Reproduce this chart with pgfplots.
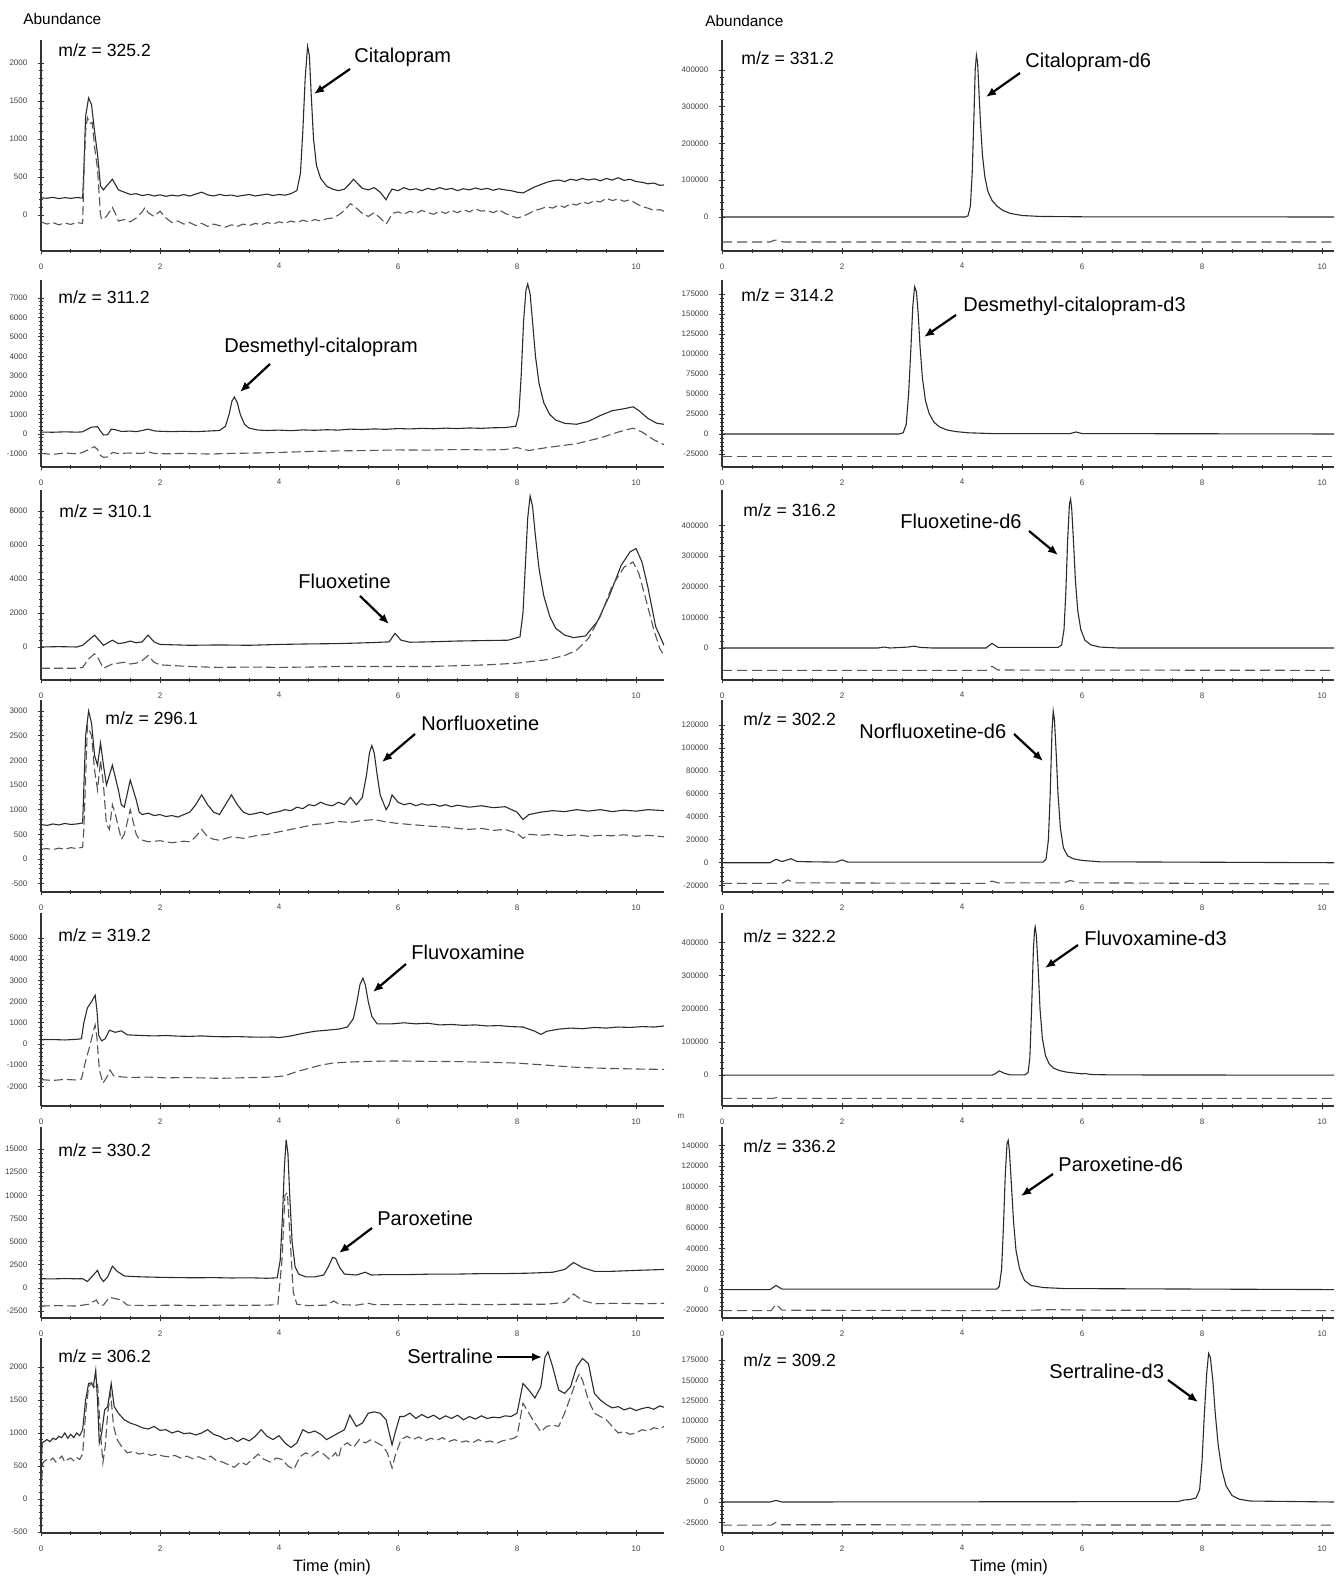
\documentclass[border=0pt]{standalone}
\usepackage{fontspec}
\setmainfont{Liberation Sans}
\usepackage{pgfplots}
\pgfplotsset{compat=1.18}
\usetikzlibrary{arrows.meta}
\definecolor{trace}{HTML}{2b2b2b}
\definecolor{dtrace}{HTML}{555555}
\definecolor{axisgray}{HTML}{333333}

% picture is laid out on the reference's pixel grid: 1 px = 0.5pt
\pgfplotsset{
  chrom/.style={
    scale only axis,
    axis x line=bottom, axis y line=left,
    axis line style={-, line width=0.6pt, axisgray},
    xmin=0, xtick={0,2,...,10}, minor x tick num=3, minor y tick num=4,
    tick align=center, major tick length=3.4pt, minor tick length=2.4pt,
    tick style={line width=0.4pt, axisgray},
    minor tick style={line width=0.4pt, axisgray},
    ticklabel style={font=\fontsize{4}{4}\selectfont, black!75},
    yticklabel style={xshift=-1.6pt},
    xticklabel style={yshift=-1pt},
    /pgf/number format/assume math mode=true,
    /pgf/number format/fixed,
    /pgf/number format/precision=0,
    /pgf/number format/1000 sep={},
    scaled y ticks=false,
    every axis plot/.append style={line width=0.55pt, mark=none},
  },
  leftcol/.style={chrom, anchor=south west, width=311.5pt, xmax=10.47},
  rightcol/.style={chrom, anchor=south west, width=306pt, xmax=10.2},
  sol/.style={trace, solid},
  das/.style={dtrace, dash pattern=on 4.5pt off 2pt},
  rsol/.style={trace, solid},
  rdas/.style={dtrace, dash pattern=on 5pt off 2.5pt},
}

\tikzset{
  mz/.style={anchor=west, font=\fontsize{8.8}{9}\selectfont, inner sep=0pt},
  cmp/.style={anchor=west, font=\fontsize{10}{10}\selectfont, inner sep=0pt},
  arr/.style={-{Latex[length=5pt,width=4.2pt]}, line width=1.1pt, black},
}

\begin{document}
\begin{tikzpicture}
\useasboundingbox (0,0) rectangle (671.5pt,789pt);

%% ---------------- row 1 ----------------
\begin{axis}[leftcol, at={(20.5pt,663.5pt)}, height=105.5pt,
  ymin=-474, ymax=2303, ytick={0,500,...,2000}]
\addplot[sol] coordinates {(0,225)(0.1,220)(0.2,232)(0.3,215)(0.4,228)(0.5,218)(0.6,230)(0.7,222)(0.72,600)(0.75,1300)(0.8,1540)(0.85,1450)(0.9,1100)(0.95,800)(1.0,380)(1.05,330)(1.1,380)(1.2,470)(1.3,330)(1.4,300)(1.5,270)(1.6,280)(1.7,255)(1.8,270)(1.9,250)(2.0,265)(2.1,245)(2.2,260)(2.3,250)(2.4,268)(2.5,248)(2.6,275)(2.7,300)(2.8,265)(2.9,250)(3.0,270)(3.1,255)(3.2,262)(3.3,245)(3.4,258)(3.5,270)(3.6,250)(3.7,262)(3.8,275)(3.9,255)(4.0,270)(4.1,260)(4.2,280)(4.3,320)(4.36,550)(4.4,1100)(4.44,1800)(4.48,2220)(4.51,2100)(4.54,1600)(4.58,1000)(4.63,650)(4.7,480)(4.8,380)(4.9,340)(5.0,320)(5.1,340)(5.2,420)(5.25,470)(5.3,430)(5.4,350)(5.5,330)(5.6,360)(5.7,300)(5.8,200)(5.85,280)(5.9,340)(6.0,320)(6.1,360)(6.2,330)(6.3,345)(6.4,320)(6.5,350)(6.6,330)(6.7,360)(6.8,335)(6.9,350)(7.0,320)(7.1,345)(7.2,330)(7.3,355)(7.4,335)(7.5,350)(7.6,325)(7.7,345)(7.8,330)(7.9,320)(8.0,300)(8.1,290)(8.2,330)(8.3,370)(8.4,400)(8.5,430)(8.6,450)(8.7,460)(8.8,440)(8.9,470)(9.0,455)(9.1,480)(9.2,460)(9.3,475)(9.4,450)(9.5,480)(9.6,460)(9.7,490)(9.8,455)(9.9,470)(10.0,440)(10.1,430)(10.2,410)(10.3,420)(10.4,390)(10.47,395)};
\addplot[das] coordinates {(0,-90)(0.1,-120)(0.2,-100)(0.3,-130)(0.4,-105)(0.5,-125)(0.6,-100)(0.7,-110)(0.72,500)(0.75,1100)(0.78,1280)(0.82,1200)(0.86,1220)(0.9,900)(0.95,600)(1.0,0)(1.02,-60)(1.1,-20)(1.2,100)(1.25,20)(1.3,-80)(1.4,-60)(1.5,-90)(1.6,-40)(1.7,40)(1.75,100)(1.8,30)(1.9,-20)(2.0,50)(2.1,-40)(2.2,-100)(2.3,-80)(2.4,-120)(2.5,-100)(2.6,-140)(2.7,-110)(2.8,-150)(2.9,-120)(3.0,-140)(3.1,-160)(3.2,-130)(3.3,-150)(3.4,-120)(3.5,-140)(3.6,-110)(3.7,-130)(3.8,-100)(3.9,-120)(4.0,-90)(4.1,-110)(4.2,-80)(4.3,-100)(4.4,-70)(4.5,-90)(4.6,-60)(4.7,-80)(4.8,-50)(4.9,-40)(5.0,0)(5.1,60)(5.2,150)(5.3,90)(5.4,20)(5.5,-20)(5.6,30)(5.7,-40)(5.8,-120)(5.85,-60)(5.9,20)(6.0,40)(6.1,10)(6.2,50)(6.3,20)(6.4,60)(6.5,30)(6.6,10)(6.7,50)(6.8,20)(6.9,60)(7.0,30)(7.1,70)(7.2,40)(7.3,80)(7.4,50)(7.5,60)(7.6,30)(7.7,70)(7.8,20)(7.9,-10)(8.0,-40)(8.1,-20)(8.2,20)(8.3,60)(8.4,80)(8.5,110)(8.6,90)(8.7,130)(8.8,100)(8.9,150)(9.0,130)(9.1,170)(9.2,150)(9.3,190)(9.4,170)(9.5,220)(9.6,190)(9.7,210)(9.8,180)(9.9,200)(10.0,150)(10.1,110)(10.2,90)(10.3,60)(10.4,70)(10.47,50)};
\end{axis}

\begin{axis}[rightcol, at={(361pt,663.5pt)}, height=105.5pt,
  ymin=-92500, ymax=481600, ytick={0,100000,...,400000}]
\addplot[rsol] coordinates {(0,0)(4.05,0)(4.1,3000)(4.14,30000)(4.17,120000)(4.2,280000)(4.22,400000)(4.24,440000)(4.26,420000)(4.28,350000)(4.31,250000)(4.34,170000)(4.38,110000)(4.43,70000)(4.5,45000)(4.58,30000)(4.68,18000)(4.8,10000)(5.0,4000)(5.3,1500)(6,500)(10.2,0)};
\addplot[rdas] coordinates {(0,-68000)(0.8,-68000)(0.88,-63000)(0.95,-63000)(1.02,-68000)(10.2,-68000)};
\end{axis}

%% ---------------- row 2 ----------------
\begin{axis}[leftcol, at={(20.5pt,555.5pt)}, height=93.5pt,
  ymin=-1698, ymax=7926, ytick={-1000,0,...,7000}]
\addplot[sol] coordinates {(0,100)(0.2,90)(0.4,110)(0.6,95)(0.7,110)(0.75,200)(0.85,350)(0.95,380)(1.0,150)(1.05,-50)(1.12,-40)(1.18,250)(1.25,220)(1.35,130)(1.5,150)(1.6,120)(1.7,180)(1.8,250)(1.9,160)(2.0,140)(2.2,120)(2.4,140)(2.6,120)(2.8,150)(3.0,180)(3.1,400)(3.16,1000)(3.21,1700)(3.25,1900)(3.3,1600)(3.35,1000)(3.42,500)(3.5,300)(3.65,200)(3.8,180)(4.0,200)(4.2,170)(4.4,210)(4.6,190)(4.8,220)(5.0,200)(5.2,250)(5.4,230)(5.6,260)(5.8,240)(6.0,280)(6.2,260)(6.4,290)(6.6,270)(6.8,300)(7.0,280)(7.2,310)(7.4,290)(7.6,320)(7.8,330)(7.98,400)(8.03,1000)(8.07,3000)(8.11,5800)(8.15,7400)(8.18,7720)(8.22,7200)(8.26,5800)(8.31,4000)(8.37,2600)(8.45,1600)(8.55,1000)(8.65,720)(8.8,550)(9.0,500)(9.2,650)(9.4,950)(9.6,1200)(9.8,1300)(9.95,1400)(10.05,1200)(10.2,800)(10.35,550)(10.47,500)};
\addplot[das] coordinates {(0,-1000)(0.2,-1050)(0.4,-980)(0.6,-1020)(0.7,-950)(0.8,-800)(0.9,-650)(0.95,-800)(1.0,-1100)(1.05,-1200)(1.12,-1180)(1.2,-950)(1.3,-1000)(1.5,-980)(1.7,-1000)(1.8,-920)(1.9,-1000)(2.1,-1020)(2.4,-1000)(2.8,-1030)(3.2,-1000)(3.6,-980)(4.0,-950)(4.5,-900)(5.0,-870)(5.5,-850)(6.0,-820)(6.5,-830)(7.0,-800)(7.5,-820)(7.8,-800)(8.0,-700)(8.2,-850)(8.5,-700)(9.0,-500)(9.4,-200)(9.7,100)(9.95,300)(10.1,100)(10.3,-300)(10.47,-550)};
\end{axis}

\begin{axis}[rightcol, at={(361pt,555.5pt)}, height=93.5pt,
  ymin=-41250, ymax=192500, ytick={-25000,0,...,175000}]
\addplot[rsol] coordinates {(0,0)(2.95,0)(3.02,1500)(3.07,12000)(3.11,50000)(3.15,110000)(3.18,160000)(3.21,184000)(3.24,178000)(3.27,150000)(3.3,110000)(3.34,70000)(3.39,42000)(3.45,26000)(3.53,15000)(3.62,9000)(3.75,5000)(3.9,3000)(4.1,1500)(4.5,500)(5.8,500)(5.9,2500)(6.0,500)(10.2,0)};
\addplot[rdas] coordinates {(0,-28500)(10.2,-28500)};
\end{axis}

%% ---------------- row 3 ----------------
\begin{axis}[leftcol, at={(20.5pt,449pt)}, height=95pt,
  ymin=-1941, ymax=9235, ytick={0,2000,...,8000}]
\addplot[sol] coordinates {(0,0)(0.3,20)(0.6,0)(0.7,100)(0.8,400)(0.9,700)(0.95,500)(1.05,100)(1.1,200)(1.2,400)(1.3,200)(1.4,250)(1.5,350)(1.6,250)(1.7,300)(1.8,700)(1.9,300)(2.0,150)(2.5,100)(3.0,120)(3.5,100)(4.0,150)(4.5,180)(5.0,200)(5.5,250)(5.85,300)(5.95,800)(6.05,400)(6.2,280)(6.5,300)(7.0,350)(7.5,380)(7.85,400)(8.05,600)(8.1,2000)(8.14,4800)(8.18,7600)(8.22,8880)(8.26,8300)(8.31,6500)(8.37,4600)(8.45,3000)(8.55,1800)(8.65,1100)(8.8,700)(8.95,550)(9.15,650)(9.35,1500)(9.55,3000)(9.75,4800)(9.9,5600)(10.0,5790)(10.1,5000)(10.2,3500)(10.33,1200)(10.47,100)};
\addplot[das] coordinates {(0,-1250)(0.3,-1250)(0.6,-1250)(0.7,-1200)(0.8,-700)(0.9,-400)(0.95,-600)(1.05,-1250)(1.2,-1000)(1.4,-900)(1.5,-1000)(1.6,-950)(1.7,-800)(1.8,-500)(1.9,-900)(2.0,-1050)(2.5,-1150)(3.0,-1200)(3.5,-1180)(4.0,-1200)(4.5,-1180)(5.0,-1150)(5.5,-1150)(6.0,-1150)(6.5,-1150)(7.0,-1100)(7.5,-1050)(8.0,-950)(8.5,-750)(8.8,-500)(9.0,-200)(9.2,500)(9.4,1800)(9.6,3600)(9.8,4700)(9.95,5000)(10.05,4300)(10.15,3000)(10.3,1000)(10.4,-100)(10.47,-500)};
\end{axis}

\begin{axis}[rightcol, at={(361pt,449pt)}, height=95pt,
  ymin=-104500, ymax=516000, ytick={0,100000,...,400000}]
\addplot[rsol] coordinates {(0,0)(2.6,0)(2.7,3000)(2.8,0)(3.1,3000)(3.2,6000)(3.3,2000)(3.5,0)(4.4,0)(4.5,15000)(4.6,2000)(5.6,2000)(5.66,10000)(5.7,60000)(5.73,180000)(5.76,350000)(5.79,470000)(5.81,486000)(5.83,450000)(5.86,340000)(5.89,220000)(5.93,120000)(5.98,60000)(6.05,25000)(6.15,10000)(6.3,3000)(6.6,0)(10.2,0)};
\addplot[rdas] coordinates {(0,-73000)(4.4,-73000)(4.5,-60000)(4.6,-72000)(10.2,-73000)};
\end{axis}

%% ---------------- row 4 ----------------
\begin{axis}[leftcol, at={(20.5pt,343pt)}, height=96pt,
  ymin=-669, ymax=3223, ytick={-500,0,...,3000}]
\addplot[sol] coordinates {(0,700)(0.1,680)(0.2,710)(0.3,690)(0.4,720)(0.5,700)(0.6,710)(0.7,730)(0.75,2500)(0.8,3000)(0.85,2750)(0.9,2100)(0.95,1900)(1.0,2350)(1.05,1900)(1.1,1500)(1.2,1900)(1.3,1400)(1.35,1100)(1.4,1050)(1.5,1600)(1.6,1200)(1.65,950)(1.7,900)(1.8,930)(1.9,880)(2.0,900)(2.1,860)(2.2,880)(2.3,850)(2.4,900)(2.5,950)(2.6,1100)(2.7,1300)(2.8,1100)(2.9,950)(3.0,900)(3.1,1100)(3.2,1300)(3.3,1100)(3.4,950)(3.5,900)(3.6,920)(3.7,950)(3.8,900)(3.9,940)(4.0,960)(4.1,1000)(4.2,980)(4.3,1050)(4.4,1020)(4.5,1100)(4.6,1080)(4.7,1150)(4.8,1100)(4.9,1080)(5.0,1150)(5.1,1100)(5.2,1250)(5.3,1100)(5.4,1250)(5.47,1700)(5.52,2150)(5.56,2300)(5.6,2150)(5.65,1700)(5.7,1300)(5.8,1000)(5.85,1100)(5.9,1300)(6.0,1150)(6.1,1100)(6.2,1130)(6.3,1080)(6.4,1120)(6.5,1090)(6.6,1110)(6.7,1070)(6.8,1100)(6.9,1060)(7.0,1090)(7.2,1050)(7.4,1080)(7.6,1040)(7.8,1060)(8.0,950)(8.1,800)(8.2,900)(8.4,950)(8.6,980)(8.8,960)(9.0,1000)(9.2,970)(9.4,1000)(9.6,960)(9.8,990)(10.0,970)(10.2,1000)(10.47,980)};
\addplot[das] coordinates {(0,200)(0.1,210)(0.2,190)(0.3,220)(0.4,200)(0.5,230)(0.6,210)(0.7,240)(0.72,600)(0.78,2700)(0.85,2500)(0.9,1800)(0.95,1400)(1.0,2000)(1.05,1500)(1.1,700)(1.15,600)(1.2,1100)(1.25,900)(1.35,400)(1.4,500)(1.5,1000)(1.6,500)(1.65,400)(1.8,350)(2.0,370)(2.2,330)(2.4,360)(2.5,350)(2.6,450)(2.7,600)(2.8,450)(2.9,400)(3.0,380)(3.2,450)(3.4,420)(3.6,470)(3.8,500)(4.0,550)(4.2,600)(4.4,650)(4.6,700)(4.8,720)(5.0,760)(5.2,740)(5.4,780)(5.6,800)(5.8,750)(6.0,720)(6.2,700)(6.4,680)(6.6,660)(6.8,650)(7.0,620)(7.2,600)(7.4,620)(7.6,580)(7.8,600)(8.0,520)(8.1,420)(8.2,500)(8.4,480)(8.6,500)(8.8,470)(9.0,490)(9.2,460)(9.4,480)(9.6,470)(9.8,490)(10.0,460)(10.2,480)(10.47,450)};
\end{axis}

\begin{axis}[rightcol, at={(361pt,343pt)}, height=96pt,
  ymin=-25500, ymax=141800, ytick={-20000,0,...,120000}]
\addplot[rsol] coordinates {(0,0)(0.8,0)(0.9,3000)(1.0,1000)(1.15,3500)(1.25,1000)(1.9,500)(2.0,2500)(2.1,500)(5.35,500)(5.4,3000)(5.44,20000)(5.47,60000)(5.5,115000)(5.52,132000)(5.54,125000)(5.57,95000)(5.6,60000)(5.64,30000)(5.69,13000)(5.76,6000)(5.85,3500)(6.0,2000)(6.3,800)(10.2,0)};
\addplot[rdas] coordinates {(0,-18000)(1.0,-18000)(1.1,-15000)(1.2,-17500)(4.4,-18000)(4.5,-16000)(4.6,-17500)(5.7,-17500)(5.8,-15500)(5.95,-17500)(10.2,-18500)};
\end{axis}

%% ---------------- row 5 ----------------
\begin{axis}[leftcol, at={(20.5pt,236pt)}, height=96.5pt,
  ymin=-2925, ymax=6180, ytick={-2000,-1000,...,5000}]
\addplot[sol] coordinates {(0,200)(0.2,210)(0.4,190)(0.6,220)(0.68,250)(0.72,1000)(0.78,1700)(0.85,2000)(0.91,2300)(0.94,1600)(0.97,400)(1.02,150)(1.08,250)(1.15,650)(1.25,550)(1.35,620)(1.45,430)(1.7,400)(1.9,380)(2.1,400)(2.3,370)(2.5,360)(2.7,380)(2.9,350)(3.1,340)(3.3,350)(3.5,330)(3.7,320)(3.9,330)(4.0,300)(4.2,380)(4.4,500)(4.6,600)(4.8,650)(5.0,700)(5.15,800)(5.25,1200)(5.31,2000)(5.36,2800)(5.41,3100)(5.45,2800)(5.5,2000)(5.56,1300)(5.65,950)(5.9,950)(6.1,1000)(6.3,950)(6.5,980)(6.7,900)(6.9,920)(7.1,880)(7.3,900)(7.5,850)(7.7,870)(7.9,820)(8.1,800)(8.3,600)(8.4,450)(8.5,600)(8.7,700)(8.9,750)(9.1,720)(9.3,780)(9.5,750)(9.7,800)(9.9,780)(10.1,820)(10.3,800)(10.47,850)};
\addplot[das] coordinates {(0,-1680)(0.2,-1720)(0.4,-1670)(0.6,-1700)(0.68,-1650)(0.75,-800)(0.82,-100)(0.88,600)(0.91,900)(0.94,300)(0.98,-1200)(1.04,-1850)(1.1,-1600)(1.16,-1230)(1.22,-1500)(1.35,-1550)(1.5,-1580)(1.8,-1560)(2.1,-1600)(2.4,-1580)(2.7,-1600)(3.0,-1620)(3.3,-1600)(3.6,-1580)(3.9,-1560)(4.1,-1500)(4.3,-1300)(4.5,-1150)(4.7,-1000)(4.9,-900)(5.2,-850)(5.5,-820)(6.0,-800)(6.5,-820)(7.0,-830)(7.5,-860)(8.0,-900)(8.5,-1000)(9.0,-1100)(9.5,-1150)(10.0,-1180)(10.47,-1200)};
\end{axis}

\begin{axis}[rightcol, at={(361pt,236pt)}, height=96.5pt,
  ymin=-93000, ymax=489500, ytick={0,100000,...,400000}]
\addplot[rsol] coordinates {(0,0)(4.5,0)(4.56,5000)(4.62,13000)(4.7,6000)(4.8,1000)(5.05,1000)(5.1,8000)(5.13,50000)(5.16,200000)(5.19,380000)(5.21,440000)(5.22,448000)(5.24,420000)(5.27,320000)(5.3,200000)(5.34,110000)(5.39,60000)(5.45,35000)(5.52,22000)(5.62,14000)(5.75,9000)(5.9,6000)(6.0,4000)(6.05,5000)(6.15,2000)(6.5,800)(10.2,0)};
\addplot[rdas] coordinates {(0,-70000)(0.85,-70000)(0.92,-67500)(1.0,-70000)(10.2,-70000)};
\end{axis}

%% ---------------- row 6 ----------------
\begin{axis}[leftcol, at={(20.5pt,130pt)}, height=95.5pt,
  ymin=-3237, ymax=17370, ytick={-2500,0,...,15000}]
\addplot[sol] coordinates {(0,1000)(0.2,980)(0.4,1020)(0.6,990)(0.7,1000)(0.78,700)(0.88,1400)(0.95,1900)(1.0,1100)(1.05,700)(1.12,1200)(1.2,2350)(1.28,1800)(1.4,1300)(1.5,1250)(1.7,1200)(2.0,1150)(2.3,1120)(2.6,1100)(2.9,1120)(3.2,1080)(3.5,1100)(3.8,1050)(3.97,1100)(4.02,3000)(4.06,8000)(4.09,13000)(4.12,16000)(4.15,14500)(4.18,10000)(4.22,5000)(4.27,2300)(4.33,1500)(4.45,1200)(4.6,1200)(4.75,1400)(4.83,2300)(4.9,3300)(4.95,3200)(5.02,2200)(5.1,1500)(5.3,1400)(5.45,1700)(5.55,1400)(5.8,1450)(6.2,1450)(6.6,1500)(7.0,1500)(7.4,1550)(7.8,1550)(8.2,1600)(8.6,1700)(8.8,2000)(8.95,2750)(9.1,2200)(9.3,1800)(9.6,1800)(10.0,1900)(10.47,2000)};
\addplot[das] coordinates {(0,-1950)(0.3,-1900)(0.6,-1950)(0.8,-1750)(0.93,-1300)(0.98,-1850)(1.05,-1850)(1.15,-1000)(1.25,-1150)(1.35,-1300)(1.45,-1850)(1.8,-1900)(2.2,-1850)(2.6,-1900)(3.0,-1850)(3.4,-1870)(3.8,-1850)(3.98,-1800)(4.05,3000)(4.1,10000)(4.14,10300)(4.18,6000)(4.24,-500)(4.3,-1750)(4.5,-1900)(4.8,-1850)(4.92,-1400)(5.02,-1800)(5.3,-1850)(5.5,-1650)(5.6,-1800)(6.0,-1800)(6.5,-1800)(7.0,-1750)(7.5,-1800)(8.0,-1750)(8.5,-1750)(8.8,-1550)(8.95,-650)(9.1,-1350)(9.3,-1700)(9.7,-1650)(10.1,-1700)(10.47,-1650)};
\end{axis}

\begin{axis}[rightcol, at={(361pt,130pt)}, height=95.5pt,
  ymin=-27600, ymax=158000, ytick={-20000,0,...,140000}]
\addplot[rsol] coordinates {(0,0)(0.8,0)(0.9,4000)(1.0,500)(4.58,500)(4.62,3000)(4.66,20000)(4.69,60000)(4.72,110000)(4.75,142000)(4.77,145000)(4.79,135000)(4.82,105000)(4.86,65000)(4.9,38000)(4.96,20000)(5.04,9000)(5.15,4000)(5.35,2000)(5.7,1000)(10.2,0)};
\addplot[rdas] coordinates {(0,-20500)(0.82,-20500)(0.9,-14000)(1.0,-20000)(4.8,-20500)(5.5,-19500)(6.2,-20000)(10.2,-20500)};
\end{axis}

%% ---------------- row 7 ----------------
\begin{axis}[leftcol, at={(20.5pt,22.5pt)}, height=97.5pt,
  ymin=-515, ymax=2439, ytick={-500,0,...,2000}]
\addplot[sol] coordinates {(0,450)(0.02,850)(0.1,900)(0.15,870)(0.2,920)(0.25,900)(0.3,950)(0.35,930)(0.4,1000)(0.45,920)(0.5,980)(0.55,930)(0.6,1000)(0.65,960)(0.7,1050)(0.75,1500)(0.8,1750)(0.85,1760)(0.88,1700)(0.92,1950)(0.95,1500)(0.98,850)(1.02,1000)(1.07,1350)(1.12,1400)(1.18,1750)(1.23,1400)(1.3,1300)(1.4,1200)(1.5,1150)(1.6,1120)(1.7,1080)(1.8,1060)(1.9,1100)(2.0,1040)(2.1,1050)(2.2,1000)(2.3,1030)(2.4,990)(2.5,1000)(2.6,970)(2.7,1000)(2.8,1050)(2.9,980)(3.0,950)(3.1,900)(3.2,930)(3.3,870)(3.4,920)(3.5,880)(3.6,950)(3.7,1050)(3.8,950)(3.9,900)(4.0,960)(4.1,850)(4.2,780)(4.3,850)(4.4,1050)(4.5,1000)(4.6,1030)(4.7,980)(4.8,900)(4.9,950)(5.0,1000)(5.1,1050)(5.19,1270)(5.3,1100)(5.4,1150)(5.5,1300)(5.6,1320)(5.7,1300)(5.8,1200)(5.9,820)(5.95,1000)(6.03,1250)(6.1,1250)(6.2,1300)(6.3,1220)(6.4,1280)(6.5,1230)(6.6,1270)(6.7,1210)(6.8,1260)(6.9,1220)(7.0,1270)(7.1,1200)(7.2,1250)(7.3,1210)(7.4,1260)(7.5,1220)(7.6,1240)(7.7,1230)(7.8,1260)(7.9,1250)(8.0,1300)(8.1,1750)(8.2,1650)(8.3,1530)(8.4,1700)(8.47,2150)(8.52,2230)(8.6,2000)(8.7,1650)(8.8,1600)(8.9,1700)(9.0,2000)(9.1,2130)(9.2,2050)(9.3,1600)(9.4,1500)(9.5,1430)(9.6,1380)(9.7,1400)(9.8,1350)(9.9,1380)(10.0,1340)(10.1,1370)(10.2,1390)(10.3,1360)(10.4,1410)(10.47,1390)};
\addplot[das] coordinates {(0,100)(0.03,550)(0.1,600)(0.15,580)(0.2,620)(0.25,560)(0.3,600)(0.35,650)(0.4,560)(0.45,600)(0.5,620)(0.55,580)(0.6,630)(0.65,600)(0.7,680)(0.75,1300)(0.8,1700)(0.85,1750)(0.9,1700)(0.95,1750)(1.0,1000)(1.04,550)(1.08,800)(1.12,1300)(1.17,1600)(1.22,1100)(1.28,900)(1.35,800)(1.45,700)(1.55,720)(1.65,680)(1.75,700)(1.85,660)(1.95,680)(2.05,650)(2.15,640)(2.25,660)(2.35,620)(2.45,650)(2.55,610)(2.65,640)(2.75,600)(2.85,650)(2.95,580)(3.05,560)(3.15,520)(3.25,480)(3.35,560)(3.45,520)(3.55,600)(3.65,680)(3.75,600)(3.85,560)(3.95,620)(4.05,600)(4.15,500)(4.25,450)(4.35,640)(4.45,700)(4.55,650)(4.65,720)(4.75,680)(4.85,600)(4.95,700)(5.0,620)(5.05,800)(5.15,850)(5.25,780)(5.35,900)(5.45,850)(5.55,900)(5.65,850)(5.75,800)(5.82,700)(5.9,470)(5.95,650)(6.05,900)(6.15,950)(6.25,900)(6.35,940)(6.45,880)(6.55,920)(6.65,890)(6.75,930)(6.85,870)(6.95,900)(7.05,860)(7.15,880)(7.25,850)(7.35,900)(7.45,860)(7.55,880)(7.65,840)(7.75,880)(7.85,900)(7.95,920)(8.0,950)(8.1,1450)(8.2,1300)(8.3,1150)(8.4,1020)(8.5,1100)(8.6,1120)(8.7,1100)(8.8,1300)(8.9,1550)(9.0,1800)(9.05,1900)(9.1,1800)(9.2,1500)(9.3,1300)(9.4,1250)(9.5,1200)(9.6,1100)(9.7,1000)(9.8,1020)(9.9,980)(10.0,1000)(10.1,1050)(10.2,1030)(10.3,1080)(10.4,1060)(10.47,1100)};
\end{axis}

\begin{axis}[rightcol, at={(361pt,22.5pt)}, height=97.5pt,
  ymin=-38200, ymax=202100, ytick={-25000,0,...,175000}]
\addplot[rsol] coordinates {(0,0)(0.8,0)(0.9,2000)(1.0,0)(7.6,500)(7.7,2500)(7.8,3000)(7.9,5000)(7.96,15000)(8.0,50000)(8.04,110000)(8.08,160000)(8.11,183000)(8.14,178000)(8.18,150000)(8.22,110000)(8.27,70000)(8.33,40000)(8.4,20000)(8.5,8000)(8.62,3500)(8.8,1200)(10.2,0)};
\addplot[rdas] coordinates {(0,-28500)(0.82,-28500)(0.9,-25000)(1.0,-28000)(10.2,-28500)};
\end{axis}

%% ---------------- text, on the reference pixel grid ----------------
\begin{scope}[shift={(0pt,789pt)}, x=0.5pt, y=-0.5pt]
\node[anchor=west, font=\fontsize{7.7}{8}\selectfont, inner sep=0pt] at (23,19) {Abundance};
\node[anchor=west, font=\fontsize{7.7}{8}\selectfont, inner sep=0pt] at (705,21) {Abundance};
\node[font=\fontsize{8.2}{8}\selectfont, inner sep=0pt] at (332,1567) {Time (min)};
\node[font=\fontsize{8.2}{8}\selectfont, inner sep=0pt] at (1009,1567) {Time (min)};
\node[font=\fontsize{4}{4}\selectfont, black!75, inner sep=0pt] at (681,1116) {m};

\node[mz] at (58,50) {m/z = 325.2};
\node[mz] at (58,297) {m/z = 311.2};
\node[mz] at (59,511) {m/z = 310.1};
\node[mz] at (105,718) {m/z = 296.1};
\node[mz] at (58,935) {m/z = 319.2};
\node[mz] at (58,1150) {m/z = 330.2};
\node[mz] at (58,1356) {m/z = 306.2};

\node[mz] at (741,58) {m/z = 331.2};
\node[mz] at (741,295) {m/z = 314.2};
\node[mz] at (743,510) {m/z = 316.2};
\node[mz] at (743,719) {m/z = 302.2};
\node[mz] at (743,936) {m/z = 322.2};
\node[mz] at (743,1146) {m/z = 336.2};
\node[mz] at (743,1360) {m/z = 309.2};

\node[cmp] at (354,57) {Citalopram};
\draw[arr] (350,69) -- (314,94);
\node[cmp] at (224,347) {Desmethyl-citalopram};
\draw[arr] (270,364) -- (240,392);
\node[cmp] at (298,581) {Fluoxetine};
\draw[arr] (360,596) -- (389,624);
\node[cmp] at (421,723) {Norfluoxetine};
\draw[arr] (415,734) -- (382,762);
\node[cmp] at (411,952) {Fluvoxamine};
\draw[arr] (406,964) -- (373,992);
\node[cmp] at (377,1218) {Paroxetine};
\draw[arr] (372,1228) -- (339,1253);
\node[cmp] at (407,1356) {Sertraline};
\draw[arr] (497,1357) -- (542,1357);

\node[cmp] at (1025,62) {Citalopram-d6};
\draw[arr] (1020,73) -- (986,97);
\node[cmp] at (963,306) {Desmethyl-citalopram-d3};
\draw[arr] (956,315) -- (924,337);
\node[cmp] at (900,521) {Fluoxetine-d6};
\draw[arr] (1029,531) -- (1058,555);
\node[cmp] at (859,731) {Norfluoxetine-d6};
\draw[arr] (1014,734) -- (1043,761);
\node[cmp] at (1084,938) {Fluvoxamine-d3};
\draw[arr] (1078,945) -- (1045,968);
\node[cmp] at (1058,1164) {Paroxetine-d6};
\draw[arr] (1053,1174) -- (1021,1196);
\node[cmp] at (1049,1371) {Sertraline-d3};
\draw[arr] (1168,1380) -- (1198,1402);
\end{scope}

\end{tikzpicture}
\end{document}
